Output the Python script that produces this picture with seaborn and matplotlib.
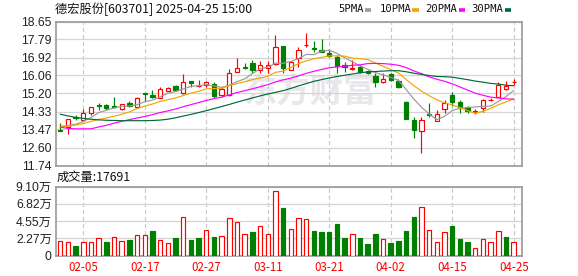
import numpy as np
import pandas as pd
import matplotlib
matplotlib.use("Agg")
import matplotlib.pyplot as plt
from matplotlib.lines import Line2D
import seaborn as sns

# ---------------- data ----------------
dates = ["01-23", "01-24", "01-27",
         "02-05", "02-06", "02-07", "02-10", "02-11", "02-12", "02-13", "02-14",
         "02-17", "02-18", "02-19", "02-20", "02-21", "02-24", "02-25", "02-26",
         "02-27", "02-28",
         "03-03", "03-04", "03-05", "03-06", "03-07", "03-10", "03-11", "03-12",
         "03-13", "03-14", "03-17", "03-18", "03-19", "03-20", "03-21", "03-24",
         "03-25", "03-26", "03-27", "03-28", "03-31",
         "04-01", "04-02", "04-03", "04-07", "04-08", "04-09", "04-10", "04-11",
         "04-14", "04-15", "04-16", "04-17", "04-18", "04-21", "04-22", "04-23",
         "04-24", "04-25"]

opens = [13.43, 13.58, 14.05, 13.91, 14.26, 14.66, 14.65, 14.60, 14.47, 14.74,
         14.55, 15.20, 15.14, 14.98, 15.32, 15.54, 15.22, 15.78, 15.54, 15.62,
         15.65, 15.11, 15.14, 16.23, 16.47, 16.66, 16.34, 16.42, 16.62, 17.49,
         16.32, 16.91, 17.50, 17.38, 17.28, 17.12, 16.93, 16.56, 16.39, 16.48,
         16.27, 16.03, 15.75, 16.13, 15.81, 14.80, 13.93, 13.40, 14.20, 13.89,
         14.47, 15.12, 14.77, 14.56, 14.32, 14.48, 14.87, 15.04, 15.39, 15.74]
closes = [13.40, 13.95, 14.02, 14.26, 14.55, 14.60, 14.50, 14.57, 14.69, 14.58,
          14.97, 15.17, 15.01, 15.43, 15.48, 15.35, 15.76, 15.70, 15.56, 15.73,
          15.06, 15.41, 16.18, 16.42, 16.44, 16.31, 16.56, 16.54, 17.42, 16.40,
          16.72, 17.28, 17.53, 17.35, 17.21, 16.99, 16.53, 16.45, 16.41, 16.24,
          16.16, 15.75, 15.87, 15.84, 15.52, 13.97, 13.45, 13.93, 14.17, 14.20,
          14.76, 14.80, 14.52, 14.34, 14.34, 14.88, 14.89, 15.60, 15.55, 15.76]
highs = [13.77, 13.97, 14.14, 14.47, 14.57, 14.74, 14.69, 15.01, 14.71, 14.82,
         15.01, 15.22, 15.38, 15.51, 15.51, 15.58, 16.15, 15.81, 15.86, 15.78,
         15.73, 15.51, 16.39, 16.90, 16.66, 16.79, 16.74, 16.74, 18.01, 17.49,
         16.75, 17.44, 18.08, 17.71, 17.79, 17.31, 17.04, 16.72, 16.80, 16.56,
         16.32, 16.16, 16.16, 16.20, 15.87, 14.82, 14.09, 14.09, 14.72, 14.40,
         14.88, 15.28, 14.88, 14.60, 14.44, 14.92, 14.98, 15.76, 15.78, 15.89]
lows = [13.39, 13.27, 13.91, 13.88, 14.18, 14.38, 14.39, 14.50, 14.42, 14.55,
        14.50, 14.82, 14.98, 14.97, 15.30, 15.31, 15.19, 15.51, 15.51, 15.51,
        14.98, 15.03, 15.09, 16.21, 16.39, 16.18, 16.18, 16.18, 16.54, 16.18,
        16.30, 16.48, 17.44, 17.20, 17.20, 16.96, 16.16, 16.24, 16.32, 16.16,
        16.13, 15.49, 15.68, 15.80, 15.45, 13.95, 13.05, 12.36, 14.09, 13.88,
        14.28, 14.60, 14.28, 14.25, 14.20, 14.31, 14.82, 15.01, 15.36, 15.60]

# volume in 万 (10k lots)
volumes = [1.95, 1.81, 1.19, 1.81, 1.81, 2.35, 1.73, 2.48, 1.95, 2.08,
           2.74, 2.74, 3.19, 2.08, 1.68, 2.26, 5.13, 2.08, 2.26, 3.41,
           2.39, 2.61, 5.00, 4.47, 2.88, 3.05, 3.94, 2.88, 8.45, 6.24,
           3.54, 5.00, 4.87, 3.19, 3.05, 3.05, 4.12, 2.26, 2.88, 2.26,
           1.46, 2.79, 2.21, 1.59, 1.86, 3.19, 5.04, 6.46, 3.41, 1.81,
           3.14, 3.85, 2.12, 1.73, 1.02, 2.21, 1.73, 3.27, 2.39, 1.7691]
# 1 = up day (red), 0 = down day (green) for volume bars
vol_up = [1, 1, 0, 1, 1, 1, 0, 1, 1, 0, 1, 1, 0, 1, 1, 0, 1, 0, 0, 1,
          0, 1, 1, 1, 1, 0, 1, 1, 1, 0, 1, 1, 1, 0, 0, 0, 0, 0, 1, 0,
          0, 0, 1, 0, 0, 0, 0, 1, 1, 1, 1, 0, 0, 0, 1, 1, 1, 1, 0, 1]

ma5 = [13.62, 13.66, 13.72, 13.85, 14.04, 14.28, 14.39, 14.50, 14.58, 14.59,
       14.66, 14.80, 14.88, 15.03, 15.21, 15.29, 15.41, 15.54, 15.57, 15.62,
       15.56, 15.49, 15.59, 15.76, 15.90, 16.15, 16.38, 16.45, 16.65, 16.65,
       16.73, 16.87, 17.07, 17.06, 17.22, 17.27, 17.12, 16.91, 16.72, 16.52,
       16.36, 16.20, 16.09, 15.97, 15.83, 15.39, 14.93, 14.54, 14.21, 13.94,
       14.10, 14.37, 14.49, 14.52, 14.55, 14.58, 14.59, 14.81, 15.05, 15.34]
ma10 = [13.60, 13.63, 13.68, 13.75, 13.86, 13.95, 14.02, 14.10, 14.20, 14.31,
        14.47, 14.59, 14.69, 14.81, 14.90, 14.98, 15.10, 15.21, 15.30, 15.42,
        15.43, 15.45, 15.57, 15.67, 15.76, 15.86, 15.94, 16.02, 16.21, 16.27,
        16.44, 16.63, 16.76, 16.86, 16.93, 17.00, 17.00, 16.99, 16.89, 16.87,
        16.82, 16.66, 16.50, 16.35, 16.18, 15.87, 15.57, 15.31, 15.09, 14.89,
        14.75, 14.65, 14.52, 14.37, 14.25, 14.34, 14.48, 14.65, 14.79, 14.94]
ma20 = [13.58, 13.52, 13.50, 13.50, 13.50, 13.59, 13.67, 13.77, 13.86, 13.94,
        14.02, 14.09, 14.18, 14.28, 14.36, 14.45, 14.56, 14.66, 14.76, 14.86,
        14.95, 15.02, 15.13, 15.24, 15.33, 15.42, 15.52, 15.62, 15.75, 15.85,
        15.93, 16.04, 16.16, 16.26, 16.35, 16.43, 16.47, 16.50, 16.55, 16.57,
        16.63, 16.64, 16.63, 16.60, 16.55, 16.44, 16.28, 16.15, 15.99, 15.88,
        15.78, 15.66, 15.51, 15.36, 15.21, 15.11, 15.02, 14.98, 14.94, 14.92]
ma30 = [14.20, 14.12, 14.05, 14.00, 13.96, 13.93, 13.91, 13.90, 13.89, 13.89,
        13.89, 13.89, 13.90, 13.92, 13.96, 14.03, 14.11, 14.19, 14.28, 14.37,
        14.47, 14.57, 14.67, 14.78, 14.88, 14.98, 15.08, 15.17, 15.25, 15.33,
        15.44, 15.56, 15.67, 15.78, 15.86, 15.94, 16.01, 16.07, 16.13, 16.19,
        16.23, 16.25, 16.27, 16.29, 16.29, 16.24, 16.17, 16.11, 16.06, 16.01,
        16.00, 15.98, 15.92, 15.86, 15.79, 15.74, 15.68, 15.65, 15.59, 15.57]

ma_names = ["5PMA", "10PMA", "20PMA", "30PMA"]
price_ticks = [11.74, 12.60, 13.47, 14.33, 15.20, 16.06, 16.92, 17.79, 18.65]
vol_ticks = [0, 2.27, 4.55, 6.82, 9.10]
vol_tick_labels = ["0", "2.27万", "4.55万", "6.82万", "9.10万"]
shown_dates = ["02-05", "02-17", "02-27", "03-11", "03-21", "04-02", "04-15", "04-25"]
title = "德宏股份[603701] 2025-04-25 15:00"
vol_label = "成交量:17691"
watermark = "东方财富"

# ---------------- style ----------------
RED = "#ff0000"
GREEN = "#008000"
MA_COLORS = {"5PMA": "#9a9a9a", "10PMA": "#f5a400", "20PMA": "#ff00ff", "30PMA": "#006a36"}
GRID = "#d4d4d4"
SPINE = "#9a9a9a"
CJK = ["Noto Sans CJK SC", "DejaVu Sans"]
NUM = ["Liberation Sans", "Noto Sans CJK SC"]
MONO = ["DejaVu Sans Mono", "Noto Sans CJK SC"]

sns.set_theme(style="white")
plt.rcParams["font.family"] = CJK

W, H = 578, 276
fig = plt.figure(figsize=(W / 100, H / 100), dpi=100)
ax = fig.add_axes([56 / W, 1 - 165.5 / H, 466 / W, 144 / H])
axv = fig.add_axes([56 / W, 1 - 255.5 / H, 466 / W, 69 / H])

n = len(dates)
x = np.arange(n)
o = np.array(opens); c = np.array(closes)
hi = np.array(highs); lo = np.array(lows)
up = c >= o
cols = np.where(up, RED, GREEN)

# watermark (axes coordinates)
ax.text(0.545, 0.50, watermark, ha="center", va="center", fontsize=24,
        fontweight="bold", fontstyle="italic", color="#e7e7ec", family=CJK,
        zorder=0, transform=ax.transAxes)

# wicks and bodies
ax.vlines(x, lo, hi, colors=cols, linewidth=0.85, zorder=3)
body_h = np.maximum(np.abs(c - o), 0.012)
ax.bar(x, body_h, bottom=np.minimum(o, c), width=0.56,
       color=np.where(up, "white", GREEN), edgecolor=cols, linewidth=0.85, zorder=4)

# moving averages via seaborn
ma_df = pd.DataFrame({"idx": np.tile(x, 4),
                      "value": np.concatenate([ma5, ma10, ma20, ma30]),
                      "MA": np.repeat(ma_names, n)})
sns.lineplot(data=ma_df, x="idx", y="value", hue="MA", palette=MA_COLORS,
             hue_order=ma_names, linewidth=0.85, legend=False, ax=ax, zorder=5,
             estimator=None, sort=False)

# volume via seaborn
vdf = pd.DataFrame({"idx": x, "vol": volumes, "up": vol_up})
vu = vdf[vdf["up"] == 1]
vd = vdf[vdf["up"] == 0]
sns.barplot(data=vu, x="idx", y="vol", native_scale=True, orient="x", width=0.58,
            color="white", edgecolor=RED, linewidth=0.85, errorbar=None,
            saturation=1, ax=axv, zorder=3)
sns.barplot(data=vd, x="idx", y="vol", native_scale=True, orient="x", width=0.58,
            color=GREEN, edgecolor=GREEN, linewidth=0.85, errorbar=None,
            saturation=1, ax=axv, zorder=3)

# axes formatting
xpos = [dates.index(d) for d in shown_dates]
xlim = (-0.55, 60.08)
for a in (ax, axv):
    a.set_xlim(*xlim)
    a.set_xlabel(""); a.set_ylabel("")
    a.set_xticks(xpos)
    a.grid(axis="x", color="#c8c8c8", linestyle=(0, (3.5, 2.5)), linewidth=0.85, zorder=0)
    a.grid(axis="y", color=GRID, linestyle="-", linewidth=0.9, zorder=0)
    a.set_axisbelow(True)
    for s in a.spines.values():
        s.set_color(SPINE); s.set_linewidth(1.2); s.set_visible(True)
    a.tick_params(length=0, pad=3)

ax.set_ylim(11.74, 18.65)
ax.set_yticks(price_ticks)
ax.set_yticklabels([f"{v:.2f}" for v in price_ticks], family=NUM, fontsize=8.8, color="#222222")
ax.set_xticklabels([])

axv.set_ylim(0, 9.10)
axv.set_yticks(vol_ticks)
axv.set_yticklabels(vol_tick_labels, family=NUM, fontsize=8.8, color="#222222")
axv.set_xticklabels(shown_dates, family=CJK, fontsize=8.3, color=RED)
axv.tick_params(axis="x", pad=4)

# title and labels
fig.text(55 / W, 1 - 9.5 / H, title, ha="left", va="center", fontsize=8.8, color="#111111", family=CJK)
fig.text(57 / W, 1 - 177.5 / H, vol_label, ha="left", va="center", fontsize=8.8, color="#111111", family=CJK)

# legend drawn as text + short colored dashes
leg_x = [338, 380, 425, 471]
dash_x = [(365, 371), (412, 419), (459, 465), (505, 511)]
for name, lx, (d0, d1) in zip(ma_names, leg_x, dash_x):
    fig.text(lx / W, 1 - 9.5 / H, name, ha="left", va="center", fontsize=7.6, color="#111111", family=MONO)
    fig.add_artist(Line2D([d0 / W, d1 / W], [1 - 10 / H, 1 - 10 / H], color=MA_COLORS[name],
                          linewidth=2.6, transform=fig.transFigure, solid_capstyle="butt"))

fig.savefig("out.png", dpi=100, facecolor="white")
